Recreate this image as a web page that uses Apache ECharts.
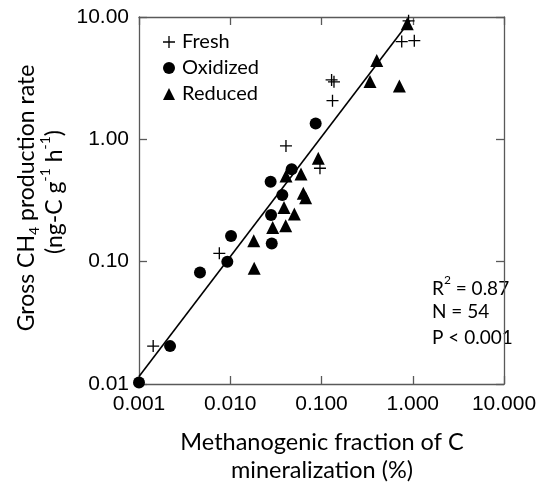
<!DOCTYPE html>
<html>
<head>
<meta charset="utf-8">
<script src="https://cdn.jsdelivr.net/npm/echarts@6/dist/echarts.min.js"></script>
<style>html,body{margin:0;padding:0;background:#fff}#c{width:540px;height:485px}</style>
</head>
<body>
<div id="c"></div>
<script>
// Data: [methanogenic fraction (%), gross CH4 production rate]
var fresh = [
  [0.00143, 0.0204], [0.00759, 0.117], [0.0408, 0.883], [0.0962, 0.58],
  [0.129, 3.06], [0.137, 2.95], [0.132, 2.07], [0.757, 6.3], [1.04, 6.4], [0.9, 9.3]
];
var oxidized = [
  [0.001, 0.0103], [0.00219, 0.0204], [0.00466, 0.0815], [0.00929, 0.1],
  [0.0102, 0.162], [0.0285, 0.141], [0.028, 0.241], [0.0372, 0.351],
  [0.0277, 0.451], [0.0471, 0.569], [0.0863, 1.35]
];
var reduced = [
  [0.0181, 0.148], [0.0183, 0.0884], [0.0292, 0.19], [0.0405, 0.197],
  [0.0388, 0.277], [0.0504, 0.2455], [0.0632, 0.362], [0.067, 0.333],
  [0.0408, 0.502], [0.0596, 0.521], [0.0922, 0.70], [0.34, 2.97],
  [0.403, 4.4], [0.714, 2.73], [0.871, 8.8]
];
var fitLine = [[0.001, 0.0115], [0.93, 9.3]];
var xTicks = [0.001, 0.01, 0.1, 1, 10];
var yTicks = [0.01, 0.1, 1, 10];
var stats = ['R2 = 0.87', 'N = 54', 'P < 0.001'];

var PLUS = 'path://M4.45,0 h1.1 v4.45 h4.45 v1.1 h-4.45 v4.45 h-1.1 v-4.45 h-4.45 v-1.1 h4.45 z';
var axisCol = '#595959';
var labelFont = '"Liberation Sans", Arial, sans-serif';
var titleFont = 'Lato, "Open Sans", sans-serif';

var chart = echarts.init(document.getElementById('c'), null, {renderer: 'canvas'});
var baseAxis = {
  type: 'log', logBase: 10,
  axisLine: {show: true, lineStyle: {color: axisCol, width: 1.3}},
  axisTick: {show: true, inside: true, length: 8, lineStyle: {color: axisCol, width: 1.3}},
  minorTick: {show: false},
  splitLine: {show: false}
};
chart.setOption({
  animation: false,
  backgroundColor: '#fff',
  grid: {left: 139, right: 36, top: 17, bottom: 101, containLabel: false},
  legend: {
    orient: 'vertical', left: 158, top: 27,
    itemWidth: 12, itemHeight: 12, itemGap: 6,
    data: ['Fresh', 'Oxidized', 'Reduced'],
    textStyle: {fontFamily: titleFont, fontSize: 20, color: '#000', padding: [0, 0, 0, 2]}
  },
  xAxis: [
    Object.assign({}, baseAxis, {
      min: 0.001, max: 10, position: 'bottom',
      axisLabel: {show: true, margin: 10, fontFamily: labelFont, fontSize: 21, color: '#000',
        formatter: function (v) { return v.toFixed(3); }}
    }),
    Object.assign({}, baseAxis, {
      min: 0.001, max: 10, position: 'top', axisLabel: {show: false}
    })
  ],
  yAxis: [
    Object.assign({}, baseAxis, {
      min: 0.01, max: 10, position: 'left',
      axisLabel: {show: true, margin: 10, fontFamily: labelFont, fontSize: 21, color: '#000',
        formatter: function (v) { return v.toFixed(2); }}
    }),
    Object.assign({}, baseAxis, {
      min: 0.01, max: 10, position: 'right', axisLabel: {show: false}
    })
  ],
  series: [
    {name: 'fit', type: 'line', data: fitLine, showSymbol: false, symbol: 'none',
     lineStyle: {color: '#000', width: 1.6}, silent: true, z: 1},
    {name: 'Fresh', type: 'scatter', data: fresh, symbol: PLUS, symbolSize: 12,
     itemStyle: {color: '#000', opacity: 1}, z: 3},
    {name: 'Oxidized', type: 'scatter', data: oxidized, symbol: 'circle', symbolSize: 12,
     itemStyle: {color: '#000', opacity: 1}, z: 3},
    {name: 'Reduced', type: 'scatter', data: reduced, symbol: 'triangle', symbolSize: 13,
     itemStyle: {color: '#000', opacity: 1}, z: 3}
  ],
  graphic: [
    {type: 'text', x: 24, y: 198, rotation: Math.PI / 2,
     style: {text: '{a|Gross CH}{s|4}{a| production rate}', align: 'center', verticalAlign: 'middle',
       rich: {a: {fontFamily: titleFont, fontSize: 23, color: '#000', lineHeight: 28, verticalAlign: 'bottom'},
              s: {fontFamily: titleFont, fontSize: 14, color: '#000', lineHeight: 14, verticalAlign: 'bottom', padding: [0, 0, -3, 0]}}}},
    {type: 'text', x: 52, y: 192, rotation: Math.PI / 2,
     style: {text: '{a|(ng-C g}{p|-1}{a| h}{p|-1}{a|)}', align: 'center', verticalAlign: 'middle',
       rich: {a: {fontFamily: titleFont, fontSize: 23, color: '#000', lineHeight: 28, verticalAlign: 'bottom'},
              p: {fontFamily: titleFont, fontSize: 14, color: '#000', lineHeight: 14, verticalAlign: 'top'}}}},
    {type: 'text', x: 322, y: 442,
     style: {text: 'Methanogenic fraction of C', align: 'center', verticalAlign: 'middle',
       fontFamily: titleFont, fontSize: 23.5, fill: '#000'}},
    {type: 'text', x: 322, y: 470,
     style: {text: 'mineralization (%)', align: 'center', verticalAlign: 'middle',
       fontFamily: titleFont, fontSize: 23.5, fill: '#000'}},
    {type: 'text', x: 432, y: 286,
     style: {text: '{a|R}{p|2}{a|' + stats[0].slice(2) + '}', align: 'left', verticalAlign: 'middle',
       rich: {a: {fontFamily: titleFont, fontSize: 19, color: '#000', lineHeight: 24, verticalAlign: 'bottom'},
              p: {fontFamily: titleFont, fontSize: 12, color: '#000', lineHeight: 12, verticalAlign: 'top'}}}},
    {type: 'text', x: 432, y: 312,
     style: {text: stats[1], align: 'left', verticalAlign: 'middle', fontFamily: titleFont, fontSize: 19, fill: '#000'}},
    {type: 'text', x: 432, y: 338,
     style: {text: stats[2], align: 'left', verticalAlign: 'middle', fontFamily: titleFont, fontSize: 19, fill: '#000'}}
  ]
});
</script>
</body>
</html>
